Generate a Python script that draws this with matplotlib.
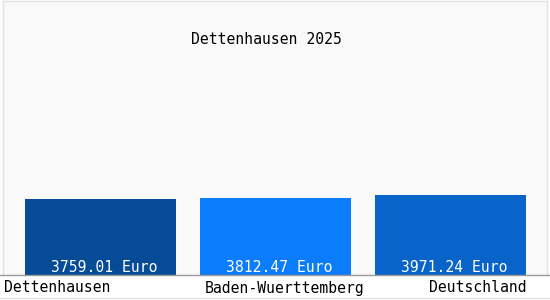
import matplotlib
matplotlib.use('Agg')
import matplotlib.pyplot as plt
from matplotlib.lines import Line2D

# -- data --
categories = ['Dettenhausen', 'Baden-Wuerttemberg', 'Deutschland']
values = [3759.01, 3812.47, 3971.24]
bar_colors = ['#054b98', '#0b7cfb', '#0864c8']
title = 'Dettenhausen 2025'

plt.rcParams['font.family'] = ['DejaVu Sans Mono']
fs = 10.6

fig = plt.figure(figsize=(5.5, 3.0), dpi=100, facecolor='white')
# axes from x=3..547 px, y=25..299 px (from bottom)
ax = fig.add_axes([3 / 550, 25 / 300, 544 / 550, 274 / 300])
ax.set_facecolor('#f9f9f9')

xs = list(range(len(values)))
bars = ax.bar(xs, values, width=151 / 175, color=bar_colors)
ax.set_xlim(-97.5 / 175, 2 + 96.5 / 175)
ax.set_ylim(0, 274 * 49.46)

for b, v in zip(bars, values):
    ax.text(b.get_x() + b.get_width() / 2 + 4 / 175, 7 * 49.46, f'{v:.2f} Euro',
            ha='center', va='center', color='white', fontsize=fs)

for s in ['left', 'right', 'top']:
    ax.spines[s].set_color('#e2e2e2')
    ax.spines[s].set_linewidth(1)
ax.spines['bottom'].set_visible(False)
ax.set_xticks([])
ax.set_yticks([])

# baseline and lower border across the whole picture
fig.add_artist(Line2D([0, 1], [25 / 300, 25 / 300], color='#9a9a9a', lw=1))
fig.add_artist(Line2D([0, 1], [2 / 300, 2 / 300], color='#e2e2e2', lw=1))

# category labels under the baseline
ax.text(-97.5 / 175 + 1 / 175, -13 * 49.46, categories[0], ha='left', va='center',
        fontsize=fs, clip_on=False)
ax.text(bars[1].get_x() + 5 / 175, -13 * 49.46, categories[1], ha='left', va='center',
        fontsize=fs, clip_on=False)
ax.text(bars[2].get_x() + bars[2].get_width() + 1 / 175, -13 * 49.46, categories[2],
        ha='right', va='center', fontsize=fs, clip_on=False)

fig.text(266 / 550, 1 - 40 / 300, title, ha='center', va='center', fontsize=fs)

plt.savefig('out.png', dpi=100, facecolor='white')
